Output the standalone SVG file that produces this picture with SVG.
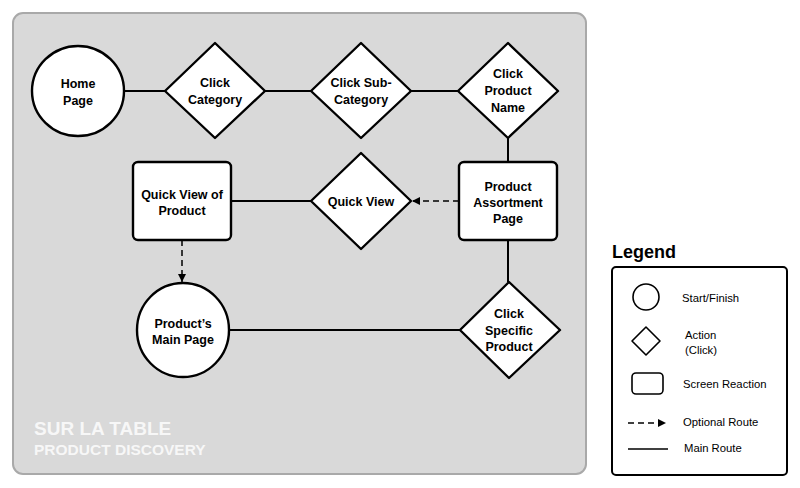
<svg xmlns="http://www.w3.org/2000/svg" width="800" height="488" viewBox="0 0 800 488">
<defs>
<style>
.shape{fill:#fff;stroke:#000;stroke-width:2.4;stroke-linejoin:round}
.lg{fill:#fff;stroke:#000;stroke-width:1.6;stroke-linejoin:round}
.edge{stroke:#000;stroke-width:2;fill:none}
.dash{stroke:#000;stroke-width:1.5;fill:none;stroke-dasharray:6,4}
.t{font-family:"Liberation Sans",Arial,Helvetica,sans-serif;font-weight:bold;font-size:12.5px;text-anchor:middle;fill:#000}
.lt{font-family:"Liberation Sans",Arial,Helvetica,sans-serif;font-size:11.3px;fill:#000}
.title{font-family:"Liberation Sans",Arial,Helvetica,sans-serif;font-weight:bold;fill:#f7f7f7}
</style>
<marker id="arr" viewBox="0 0 10 10" refX="10" refY="5" markerWidth="8" markerHeight="8" markerUnits="userSpaceOnUse" orient="auto">
<path d="M0,0 L10,5 L0,10 z" fill="#000"/>
</marker>
</defs>
<rect x="0" y="0" width="800" height="488" fill="#fff"/>
<rect id="panel" x="13" y="13" width="573" height="461" rx="10" fill="#d9d9d9" stroke="#a9a9a9" stroke-width="2"/>
<text class="title" x="34" y="435" font-size="19">SUR LA TABLE</text>
<text class="title" x="34" y="455" font-size="15.5">PRODUCT DISCOVERY</text>

<g id="connectors">
<line class="edge" x1="124" y1="91" x2="165" y2="91"/>
<line class="edge" x1="265" y1="91" x2="311" y2="91"/>
<line class="edge" x1="411" y1="91" x2="458" y2="91"/>
<line class="edge" x1="508" y1="138" x2="508" y2="162"/>
<line class="dash" x1="459" y1="201" x2="412" y2="201" marker-end="url(#arr)"/>
<line class="edge" x1="311" y1="201" x2="231" y2="201"/>
<line class="dash" x1="182" y1="240" x2="182" y2="282" marker-end="url(#arr)"/>
<line class="edge" x1="508" y1="240" x2="508" y2="282"/>
<line class="edge" x1="460" y1="330" x2="229" y2="330"/>
</g>

<g id="home-page">
<ellipse class="shape" cx="78" cy="91" rx="46" ry="45"/>
<text class="t" x="78" y="88">Home</text>
<text class="t" x="78" y="105">Page</text>
</g>
<g id="click-category">
<path class="shape" d="M215,43 L265,91 L215,138 L165,91 Z"/>
<text class="t" x="215" y="87">Click</text>
<text class="t" x="215" y="104">Category</text>
</g>
<g id="click-sub-category">
<path class="shape" d="M361,43 L411,91 L361,138 L311,91 Z"/>
<text class="t" x="361" y="87">Click Sub-</text>
<text class="t" x="361" y="104">Category</text>
</g>
<g id="click-product-name">
<path class="shape" d="M508,43 L558,91 L508,138 L458,91 Z"/>
<text class="t" x="508" y="78">Click</text>
<text class="t" x="508" y="95">Product</text>
<text class="t" x="508" y="112">Name</text>
</g>
<g id="product-assortment-page">
<rect class="shape" x="459" y="162" width="98" height="78" rx="5"/>
<text class="t" x="508" y="191">Product</text>
<text class="t" x="508" y="207">Assortment</text>
<text class="t" x="508" y="223">Page</text>
</g>
<g id="quick-view">
<path class="shape" d="M361,153 L411,201 L361,249 L311,201 Z"/>
<text class="t" x="361" y="206">Quick View</text>
</g>
<g id="quick-view-of-product">
<rect class="shape" x="133" y="162" width="98" height="78" rx="5"/>
<text class="t" x="182" y="199">Quick View of</text>
<text class="t" x="182" y="215">Product</text>
</g>
<g id="products-main-page">
<ellipse class="shape" cx="183" cy="330" rx="46" ry="47"/>
<text class="t" x="183" y="328">Product’s</text>
<text class="t" x="183" y="344">Main Page</text>
</g>
<g id="click-specific-product">
<path class="shape" d="M509,282 L560,330 L509,378 L460,330 Z"/>
<text class="t" x="509" y="318">Click</text>
<text class="t" x="509" y="335">Specific</text>
<text class="t" x="509" y="351">Product</text>
</g>

<g id="legend">
<text x="612" y="258" font-family="'Liberation Sans',Arial,Helvetica,sans-serif" font-weight="bold" font-size="18">Legend</text>
<rect x="612" y="267" width="175" height="208" rx="4" fill="#fff" stroke="#000" stroke-width="2"/>
<circle class="lg" cx="646" cy="297" r="13"/>
<text class="lt" x="682" y="302">Start/Finish</text>
<path class="lg" d="M646,327 L660,341 L646,355 L632,341 Z"/>
<text class="lt" x="685" y="339">Action</text>
<text class="lt" x="685" y="354">(Click)</text>
<rect class="lg" x="632" y="373" width="31" height="21" rx="4"/>
<text class="lt" x="683" y="388">Screen Reaction</text>
<line class="dash" x1="628" y1="423" x2="666" y2="423" stroke-width="1.3" stroke-dasharray="5,3.5" marker-end="url(#arr)"/>
<text class="lt" x="683" y="426">Optional Route</text>
<line x1="628" y1="449" x2="668" y2="449" stroke="#000" stroke-width="1.3"/>
<text class="lt" x="684" y="452">Main Route</text>
</g>
</svg>
